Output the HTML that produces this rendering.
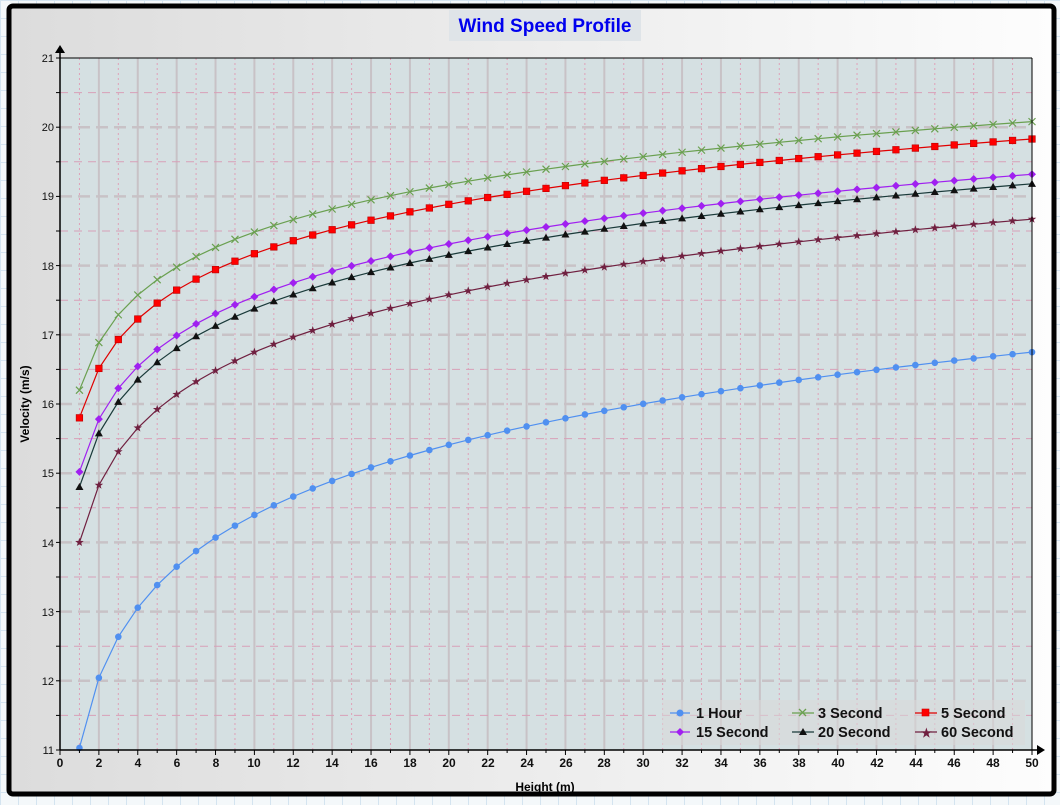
<!DOCTYPE html>
<html><head><style>
body{margin:0;width:1060px;height:805px;overflow:hidden;background:#f4f8fa;
background-image:linear-gradient(#d4e4f0 1px,transparent 1px),linear-gradient(90deg,#d4e4f0 1px,transparent 1px);background-size:18px 18px;}
svg{position:absolute;left:0;top:0}
text{font-family:"Liberation Sans",sans-serif}
</style></head><body>
<svg width="1060" height="805" xmlns="http://www.w3.org/2000/svg">
<defs>
<linearGradient id="fr" x1="0" x2="1" y1="0" y2="0"><stop offset="0" stop-color="#dcdcdc"/><stop offset="1" stop-color="#fdfdfd"/></linearGradient>
</defs>
<rect x="9" y="6" width="1045" height="788" rx="4" fill="url(#fr)" stroke="#000" stroke-width="5"/>
<rect x="449" y="10" width="192" height="31" fill="#dfe4e8"/>
<text x="545" y="32" text-anchor="middle" font-size="19" font-weight="bold" fill="#0000ee">Wind Speed Profile</text>
<rect x="60" y="58" width="972" height="692" fill="#d5e0e2"/>
<g id="grid"></g>
<g id="series"></g>
<rect x="662" y="700" width="363" height="45" fill="#d8d8d8" opacity="0.55"/>
<g font-size="14.5" font-weight="bold" fill="#111">
<line x1="670" y1="713" x2="690" y2="713" stroke="#5090f0" stroke-width="1.3"/><circle cx="680" cy="713" r="3.5" fill="#5090f0"/><text x="696" y="718">1 Hour</text>
<line x1="792" y1="713" x2="814" y2="713" stroke="#6aa050" stroke-width="1.3"/><path d="M799 709l7 7M806 709l-7 7" stroke="#6aa050" stroke-width="1.3"/><text x="818" y="718">3 Second</text>
<line x1="915" y1="713" x2="937" y2="713" stroke="#e00000" stroke-width="1.3"/><rect x="922" y="709" width="7" height="7" fill="#ff0000" stroke="#c00" stroke-width="0.6"/><text x="941" y="718">5 Second</text>
<line x1="670" y1="732" x2="690" y2="732" stroke="#a020f0" stroke-width="1.3"/><path d="M680 728l4 4-4 4-4-4z" fill="#a020f0"/><text x="696" y="737">15 Second</text>
<line x1="792" y1="732" x2="814" y2="732" stroke="#1a3a3a" stroke-width="1.3"/><path d="M803 728l4 7h-8z" fill="#111"/><text x="818" y="737">20 Second</text>
<line x1="915" y1="732" x2="937" y2="732" stroke="#702040" stroke-width="1.3"/><text x="921" y="737" font-size="12" fill="#702040">★</text><text x="941" y="737">60 Second</text>
</g>
<g stroke="#000" stroke-width="1.5">
<line x1="60" y1="750" x2="1040" y2="750"/><line x1="60" y1="750" x2="60" y2="52"/><line x1="60" y1="58" x2="1032" y2="58" stroke-width="1"/><line x1="1032" y1="58" x2="1032" y2="750" stroke-width="1"/>
</g>
<path d="M1045 750l-8-5v10z" fill="#000"/><path d="M60 45l-5 8h10z" fill="#000"/>
<g id="ticks" stroke="#000" stroke-width="1"></g>
<g font-size="11" text-anchor="end" fill="#111">
<text x="54" y="62">21</text><text x="54" y="131">20</text><text x="54" y="200">19</text><text x="54" y="270">18</text><text x="54" y="339">17</text><text x="54" y="408">16</text><text x="54" y="477">15</text><text x="54" y="547">14</text><text x="54" y="616">13</text><text x="54" y="685">12</text><text x="54" y="754">11</text>
</g>
<g font-size="12" font-weight="bold" text-anchor="middle" fill="#111">
<text x="60" y="767">0</text><text x="99" y="767">2</text><text x="138" y="767">4</text><text x="177" y="767">6</text><text x="216" y="767">8</text><text x="254" y="767">10</text><text x="293" y="767">12</text><text x="332" y="767">14</text><text x="371" y="767">16</text><text x="410" y="767">18</text><text x="449" y="767">20</text><text x="488" y="767">22</text><text x="527" y="767">24</text><text x="566" y="767">26</text><text x="604" y="767">28</text><text x="643" y="767">30</text><text x="682" y="767">32</text><text x="721" y="767">34</text><text x="760" y="767">36</text><text x="799" y="767">38</text><text x="838" y="767">40</text><text x="877" y="767">42</text><text x="916" y="767">44</text><text x="954" y="767">46</text><text x="993" y="767">48</text><text x="1032" y="767">50</text>
</g>
<text x="545" y="791" font-size="12" font-weight="bold" text-anchor="middle">Height (m)</text>
<text transform="translate(29,404) rotate(-90)" font-size="12" font-weight="bold" text-anchor="middle">Velocity (m/s)</text>
</svg>
<script>
var NS="http://www.w3.org/2000/svg";
function X(h){return 60+h*19.44}function Y(v){return 750-(v-11)*69.2}
function el(p,t,a){var e=document.createElementNS(NS,t);for(var k in a)e.setAttribute(k,a[k]);p.appendChild(e);return e}
var g=document.getElementById("grid"),tk=document.getElementById("ticks");
for(var i=1;i<50;i++){var x=X(i);if(i%2==0)el(g,"line",{x1:x,y1:58,x2:x,y2:750,stroke:"#c8c2c6","stroke-width":2});else el(g,"line",{x1:x,y1:58,x2:x,y2:750,stroke:"#e0a0b8","stroke-width":1,"stroke-dasharray":"2,3"});}
for(var v=11;v<=21;v+=0.5){var y=Y(v);if(v%1==0){if(v<21&&v>11)el(g,"line",{x1:60,y1:y,x2:1032,y2:y,stroke:"#c8c2c6","stroke-width":2.5,"stroke-dasharray":"12,6"});}else el(g,"line",{x1:60,y1:y,x2:1032,y2:y,stroke:"#d8a0b8","stroke-width":1,"stroke-dasharray":"8,6"});
el(tk,"line",{x1:56,y1:y,x2:60,y2:y});}
for(var i=0;i<=50;i++){el(tk,"line",{x1:X(i),y1:750,x2:X(i),y2:i%2?753:755});}
var S=[[11.03,1.462,"#5090f0","c"],[16.2,0.992,"#6aa050","x"],[15.8,1.03,"#e00000","s"],[15.02,1.099,"#a020f0","d"],[14.8,1.12,"#1a3a3a","t"],[14.0,1.194,"#702040","st"]];
var sg=document.getElementById("series");
S.forEach(function(s){var pts=[];for(var h=1;h<=50;h++)pts.push(X(h).toFixed(1)+","+Y(s[0]+s[1]*Math.log(h)).toFixed(1));
el(sg,"polyline",{points:pts.join(" "),fill:"none",stroke:s[2],"stroke-width":1.2});
for(var h=1;h<=50;h++){var x=X(h),y=Y(s[0]+s[1]*Math.log(h));
if(s[3]=="c")el(sg,"circle",{cx:x,cy:y,r:3.3,fill:"#5090f0"});
else if(s[3]=="x")el(sg,"path",{d:"M"+(x-3.5)+" "+(y-3.5)+"l7 7M"+(x+3.5)+" "+(y-3.5)+"l-7 7",stroke:"#6aa050","stroke-width":1.2});
else if(s[3]=="s")el(sg,"rect",{x:x-3.3,y:y-3.3,width:6.6,height:6.6,fill:"#ff0000",stroke:"#b00","stroke-width":0.6});
else if(s[3]=="d")el(sg,"path",{d:"M"+x+" "+(y-4)+"l4 4-4 4-4-4z",fill:"#a020f0"});
else if(s[3]=="t")el(sg,"path",{d:"M"+x+" "+(y-4)+"l4 7h-8z",fill:"#111"});
else{var d="";for(var k=0;k<10;k++){var r=k%2?1.8:4.5,a=-Math.PI/2+k*Math.PI/5;d+=(k?"L":"M")+(x+r*Math.cos(a)).toFixed(1)+" "+(y+r*Math.sin(a)).toFixed(1);}el(sg,"path",{d:d+"z",fill:"#702040"});}
}});
</script>
</body></html>
